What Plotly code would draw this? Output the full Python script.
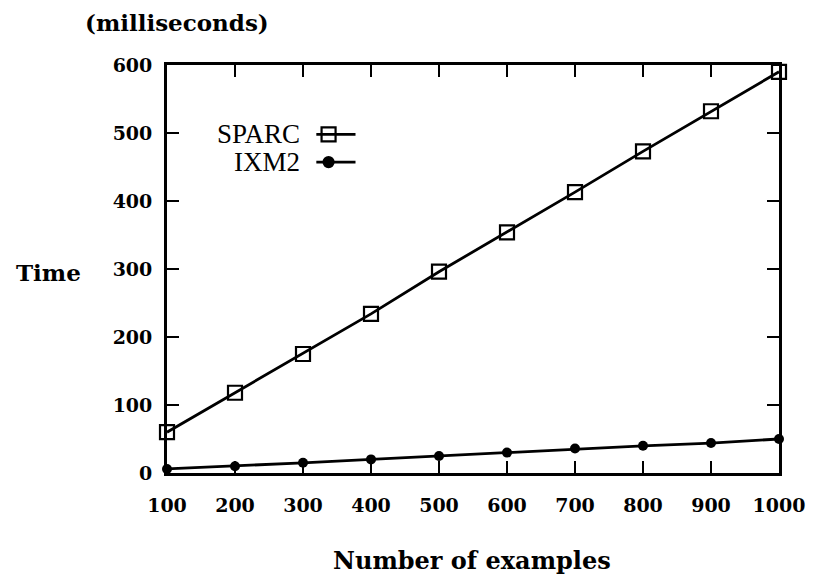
import plotly.graph_objects as go

examples = [100, 200, 300, 400, 500, 600, 700, 800, 900, 1000]
sparc_ms = [60, 118, 175, 234, 296, 354, 413, 473, 532, 590]
ixm2_ms = [6, 10, 15, 20, 25, 30, 36, 40, 44, 50]
x_ticks = [100, 200, 300, 400, 500, 600, 700, 800, 900, 1000]
y_ticks = [0, 100, 200, 300, 400, 500, 600]

FONT = "DejaVu Serif"
LFONT = "Liberation Serif"

W, H = 817, 574
L, R, T, B = 167, 29, 65, 101
PW, PH = W - L - R, H - T - B

fig = go.Figure()
fig.add_trace(go.Scatter(x=examples, y=sparc_ms, mode="lines+markers", name="SPARC",
                         line=dict(color="black", width=2.8),
                         marker=dict(symbol="square-open", size=14, color="black",
                                     line=dict(width=2.2, color="black")),
                         cliponaxis=False))
fig.add_trace(go.Scatter(x=examples, y=ixm2_ms, mode="lines+markers", name="IXM2",
                         line=dict(color="black", width=2.8),
                         marker=dict(symbol="circle", size=10, color="black"),
                         cliponaxis=False))

# manual legend (text left of sample) on an overlay 0..1 axis
for name, yy, sym, sz in [("SPARC", 0.83, "square-open", 14), ("IXM2", 0.762, "circle", 10)]:
    fig.add_trace(go.Scatter(x=[0.244, 0.308], y=[yy, yy], xaxis="x2", yaxis="y2",
                             mode="lines", line=dict(color="black", width=2.8),
                             showlegend=False, hoverinfo="skip"))
    fig.add_trace(go.Scatter(x=[0.264], y=[yy], xaxis="x2", yaxis="y2", mode="markers",
                             marker=dict(symbol=sym, size=sz, color="black",
                                         line=dict(width=2.2, color="black")),
                             showlegend=False, hoverinfo="skip"))
    fig.add_annotation(x=0.221, y=yy, xref="x2", yref="y2", text=name, showarrow=False,
                       xanchor="right", yanchor="middle",
                       font=dict(family=LFONT, size=27, color="black"))

axis_common = dict(showline=True, linecolor="black", linewidth=2.8, mirror="ticks",
                   ticks="inside", ticklen=12, tickwidth=2.2, tickcolor="black",
                   showgrid=False, zeroline=False,
                   tickfont=dict(family=FONT, size=19, color="black", weight="bold"))

fig.update_layout(
    width=W, height=H,
    margin=dict(l=L, r=R, t=T, b=B),
    paper_bgcolor="white", plot_bgcolor="white",
    showlegend=False,
    xaxis=dict(range=[100, 1000], tickvals=x_ticks, ticklabelstandoff=13, **axis_common),
    yaxis=dict(range=[0, 600], tickvals=y_ticks, ticklabelstandoff=8, **axis_common),
    xaxis2=dict(range=[0, 1], overlaying="x", visible=False, fixedrange=True),
    yaxis2=dict(range=[0, 1], overlaying="y", visible=False, fixedrange=True),
)


def px_ann(text, px, py, size=23):
    fig.add_annotation(x=(px - L) / PW, y=(H - B - py) / PH, xref="paper", yref="paper",
                       text=text, showarrow=False, xanchor="center", yanchor="middle",
                       font=dict(family=FONT, size=size, color="black", weight="bold"))


px_ann("(milliseconds)", 177, 23)
px_ann("Time", 47, 272)
px_ann("Number of examples", 476, 560, 24)

fig.write_html("out.html", config={"displayModeBar": False},
               post_script="document.body.style.margin='0';")
